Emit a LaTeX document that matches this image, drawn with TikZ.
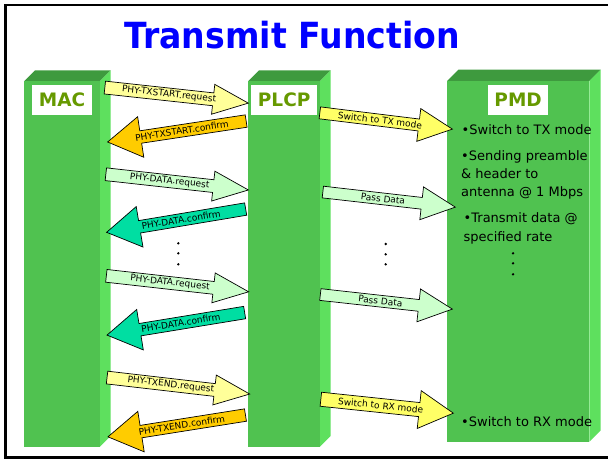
\documentclass[tikz,border=0pt]{standalone}
\usepackage{fontspec}
\usepackage{graphicx}
\usepackage{tikz}
\usetikzlibrary{shapes.arrows, positioning, calc}

\newfontfamily\tah{DejaVu Sans}

\definecolor{frontgreen}{RGB}{80,194,80}
\definecolor{topgreen}{RGB}{62,154,62}
\definecolor{sidegreen}{RGB}{94,224,94}
\definecolor{olive}{RGB}{102,153,0}
\definecolor{titleblue}{RGB}{0,0,255}
\definecolor{reqyellow}{RGB}{255,255,153}
\definecolor{cnforange}{RGB}{255,204,0}
\definecolor{datagreen}{RGB}{204,255,204}
\definecolor{datateal}{RGB}{0,222,162}
\definecolor{modeyellow}{RGB}{255,255,102}

\begin{document}
\begin{tikzpicture}[x=1pt, y=-1pt,
	front/.style={fill=frontgreen, inner sep=0, outer sep=0, anchor=north west},
	lbl/.style={fill=white, text=olive, font=\tah\bfseries\fontsize{18.5}{20}\selectfont, inner xsep=6.5pt, inner ysep=0, minimum height=30pt, below=4pt of #1},
	blk/.style={single arrow, draw=black, line width=0.7pt, anchor=tail, inner xsep=1pt, inner ysep=1pt, font=\tah\fontsize{9}{10}\selectfont},
	req/.style={blk, minimum width=30pt, single arrow head extend=7.5pt, single arrow tip angle=46},
	cnf/.style={blk, shape border rotate=180, minimum width=41pt, single arrow head extend=11pt, single arrow tip angle=63},
	pass/.style={blk, minimum width=33pt, single arrow head extend=8.5pt, single arrow tip angle=52},
	pmdtxt/.style={font=\tah\fontsize{13}{18}\selectfont, inner sep=0, anchor=base west}]

	\useasboundingbox (0,0) rectangle (608,460);
	\draw[line width=2.2pt] (608,5.3) -- (5.5,5.3) -- (5.5,457.5) -- (608,457.5);

	\node[font=\tah\bfseries\fontsize{36}{40}\selectfont, text=titleblue, anchor=base, inner sep=0] (title) at (292,49) {\scalebox{0.92}[1]{Transmit Function}};

	\node[front, minimum width=75.7pt, minimum height=365.7pt] (mac) at (24.3,81) {};
	\node[front, minimum width=71.7pt, minimum height=365.7pt] (plcp) at (248.3,81) {};
	\node[front, minimum width=142.3pt, minimum height=360.7pt] (pmd) at (447,81) {};

	\foreach \n/\d in {mac/10.7, plcp/10.7, pmd/11.4} {
		\fill[topgreen] (\n.north west) -- ++(\d,-\d) -- ($(\n.north east)+(\d,-\d)$) -- (\n.north east) -- cycle;
		\fill[sidegreen] (\n.north east) -- ++(\d,-\d) -- ($(\n.south east)+(\d,-\d)$) -- (\n.south east) -- cycle;
	}

	\node[lbl=mac.north] (maclbl) {MAC};
	\node[lbl=plcp.north] (plcplbl) {PLCP};
	\node[lbl=pmd.north] (pmdlbl) {PMD};

	\node[req, fill=reqyellow, rotate=-6.2, minimum height=144.3pt] (r1) at (104.5,87.5) {PHY-TXSTART.request};
	\node[cnf, fill=cnforange, rotate=8.6, minimum height=140.1pt] (c1) at (246.5,121) {PHY-TXSTART.confirm};
	\node[req, fill=datagreen, rotate=-6.3, minimum height=143.4pt] (r2) at (105.5,174.2) {PHY-DATA.request};
	\node[cnf, fill=datateal, rotate=9.5, minimum height=141pt] (c2) at (246,209) {PHY-DATA.confirm};
	\node[req, fill=datagreen, rotate=-6.4, minimum height=143.2pt] (r3) at (106,275.8) {PHY-DATA.request};
	\node[cnf, fill=datateal, rotate=9.3, minimum height=139.5pt] (c3) at (245,312.5) {PHY-DATA.confirm};
	\node[req, fill=reqyellow, rotate=-6.6, minimum height=143.6pt] (r4) at (106.7,377.5) {PHY-TXEND.request};
	\node[cnf, fill=cnforange, rotate=9, minimum height=139.2pt] (c4) at (245.8,415) {PHY-TXEND.confirm};

	\node[pass, fill=modeyellow, rotate=-7, minimum height=133.5pt] (p1) at (319.5,112.8) {Switch to TX mode};
	\node[pass, fill=datagreen, rotate=-6.5, minimum height=133.3pt] (p2) at (322.5,192) {Pass Data};
	\node[pass, fill=datagreen, rotate=-6.3, minimum height=132.8pt] (p3) at (320,294.5) {Pass Data};
	\node[pass, fill=modeyellow, rotate=-6, minimum height=133.2pt, minimum width=38pt, single arrow head extend=8.2pt, single arrow tip angle=58] (p4) at (320.5,399.2) {Switch to RX mode};

	\foreach \y in {243.3, 253.3, 264.3}
		\fill (178.3,\y) circle (1.3);
	\foreach \y in {244, 254.3, 264.3}
		\fill (385.7,\y) circle (1.3);
	\foreach \y in {253.3, 263.3, 274.3}
		\fill (513,\y) circle (1.3);

	\node[pmdtxt] (t1) at (461.5,134) {•Switch to TX mode};
	\node[pmdtxt] (t2) at (461,160) {•Sending preamble};
	\node[pmdtxt] (t3) at (461,178.3) {\& header to};
	\node[pmdtxt] (t4) at (461,196.7) {antenna @ 1 Mbps};
	\node[pmdtxt] (t5) at (463.5,222.7) {•Transmit data @};
	\node[pmdtxt] (t6) at (463.5,241.7) {specified rate};
	\node[pmdtxt] (t7) at (461,426.7) {•Switch to RX mode};
\end{tikzpicture}
\end{document}
